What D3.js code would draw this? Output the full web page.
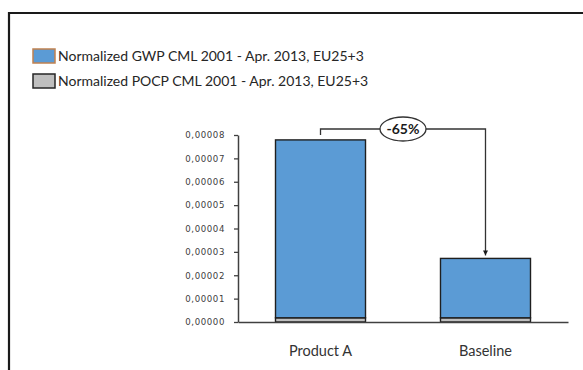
<!DOCTYPE html>
<html>
<head>
<meta charset="utf-8">
<script src="https://cdn.jsdelivr.net/npm/d3@7"></script>
<style>
  html, body { margin: 0; padding: 0; background: #fff; }
  svg { display: block; }
</style>
</head>
<body>
<svg id="chart" width="583" height="370"></svg>
<script>
// Data
const categories = ["Product A", "Baseline"];
const pocpValues = [0.0000018, 0.0000018];
const gwpValues = [0.0000761, 0.0000254];
const seriesNames = [
  "Normalized GWP CML 2001 - Apr. 2013, EU25+3",
  "Normalized POCP CML 2001 - Apr. 2013, EU25+3"
];
const yTicks = [0, 0.00001, 0.00002, 0.00003, 0.00004, 0.00005, 0.00006, 0.00007, 0.00008];
const changeLabel = "-65%";

const svg = d3.select("#chart");

// Outer frame (top and left edges)
svg.append("path")
  .attr("d", "M9,370 V13 H583")
  .attr("fill", "none")
  .attr("stroke", "#1a1a1a")
  .attr("stroke-width", 2.2);

const x = d3.scaleBand()
  .domain(categories)
  .range([238, 568])
  .paddingInner(0.4545)
  .paddingOuter(0.2273);

const y = d3.scaleLinear()
  .domain([0, 0.00008])
  .range([322, 135]);

const locale = d3.formatLocale({ decimal: ",", thousands: ".", grouping: [3], currency: ["", ""] });
const fmt = locale.format(".5f");

// Stacked bars: POCP at the bottom, GWP on top
const rows = categories.map((c, i) => ({ cat: c, pocp: pocpValues[i], gwp: gwpValues[i] }));
const stack = d3.stack().keys(["pocp", "gwp"])(rows);
const fills = { pocp: "#bfbfbf", gwp: "#5b9bd5" };

svg.append("g").selectAll("g")
  .data(stack)
  .join("g")
  .attr("fill", d => fills[d.key])
  .selectAll("rect")
  .data(d => d)
  .join("rect")
  .attr("x", d => x(d.data.cat))
  .attr("width", x.bandwidth())
  .attr("y", d => y(d[1]))
  .attr("height", d => y(d[0]) - y(d[1]))
  .attr("stroke", "#1f1f1f")
  .attr("stroke-width", 1.4);

// Y axis
const yAxis = svg.append("g")
  .attr("transform", "translate(238,0)")
  .call(d3.axisLeft(y).tickValues(yTicks).tickFormat(fmt).tickSizeInner(4).tickSizeOuter(0).tickPadding(9));
yAxis.select(".domain").attr("stroke", "#404040").attr("stroke-width", 1.5);
yAxis.selectAll(".tick line").attr("stroke", "#404040").attr("stroke-width", 1.3);
yAxis.selectAll(".tick text")
  .attr("fill", "#404040")
  .style("font-family", "'DejaVu Sans', Verdana, sans-serif")
  .style("font-size", "8.6px")
  .style("letter-spacing", "0.6px");

// X axis
const xAxis = svg.append("g")
  .attr("transform", "translate(0,322)")
  .call(d3.axisBottom(x).tickSize(0).tickSizeOuter(0).tickPadding(24));
xAxis.select(".domain").attr("stroke", "#404040").attr("stroke-width", 1.5);
xAxis.selectAll(".tick text")
  .attr("fill", "#333")
  .style("font-family", "Lato, 'Open Sans', sans-serif")
  .style("font-size", "14.5px");

// Change annotation between the two totals
const totals = rows.map(r => r.pocp + r.gwp);
const xa = x(categories[0]) + x.bandwidth() / 2;
const xb = x(categories[1]) + x.bandwidth() / 2;
const yLine = y(0.00008) - 6;
const ann = svg.append("g");
svg.append("defs").append("marker")
  .attr("id", "arrow")
  .attr("viewBox", "0 0 10 10")
  .attr("refX", 10).attr("refY", 5)
  .attr("markerWidth", 5).attr("markerHeight", 5)
  .attr("markerUnits", "userSpaceOnUse")
  .attr("orient", "auto")
  .append("path").attr("d", "M0,0 L10,5 L0,10 Z").attr("fill", "#1a1a1a");
ann.append("path")
  .attr("d", `M${xa},${y(totals[0]) - 5} V${yLine} H${xb} V${y(totals[1]) - 3}`)
  .attr("fill", "none")
  .attr("stroke", "#333")
  .attr("stroke-width", 1.3)
  .attr("marker-end", "url(#arrow)");
ann.append("ellipse")
  .attr("cx", (xa + xb) / 2).attr("cy", yLine)
  .attr("rx", 23).attr("ry", 12)
  .attr("fill", "#fff").attr("stroke", "#333").attr("stroke-width", 1.3);
ann.append("text")
  .attr("x", (xa + xb) / 2).attr("y", yLine)
  .attr("text-anchor", "middle").attr("dy", "0.36em")
  .attr("fill", "#1a1a1a")
  .style("font-family", "Lato, 'Open Sans', sans-serif")
  .style("font-size", "14px")
  .style("font-weight", "bold")
  .text(changeLabel);

// Legend
const legendColors = [
  { fill: "#5b9bd5", stroke: "#c0814f" },
  { fill: "#bfbfbf", stroke: "#262626" }
];
const legend = svg.append("g").selectAll("g")
  .data(seriesNames)
  .join("g")
  .attr("transform", (d, i) => `translate(33,${49 + i * 25})`);
legend.append("rect")
  .attr("width", 22).attr("height", 14)
  .attr("fill", (d, i) => legendColors[i].fill)
  .attr("stroke", (d, i) => legendColors[i].stroke)
  .attr("stroke-width", 1.5);
legend.append("text")
  .attr("x", 25).attr("y", 7).attr("dy", "0.36em")
  .attr("fill", "#262626")
  .style("font-family", "Lato, 'Open Sans', sans-serif")
  .style("font-size", "14px")
  .text(d => d);
</script>
</body>
</html>
